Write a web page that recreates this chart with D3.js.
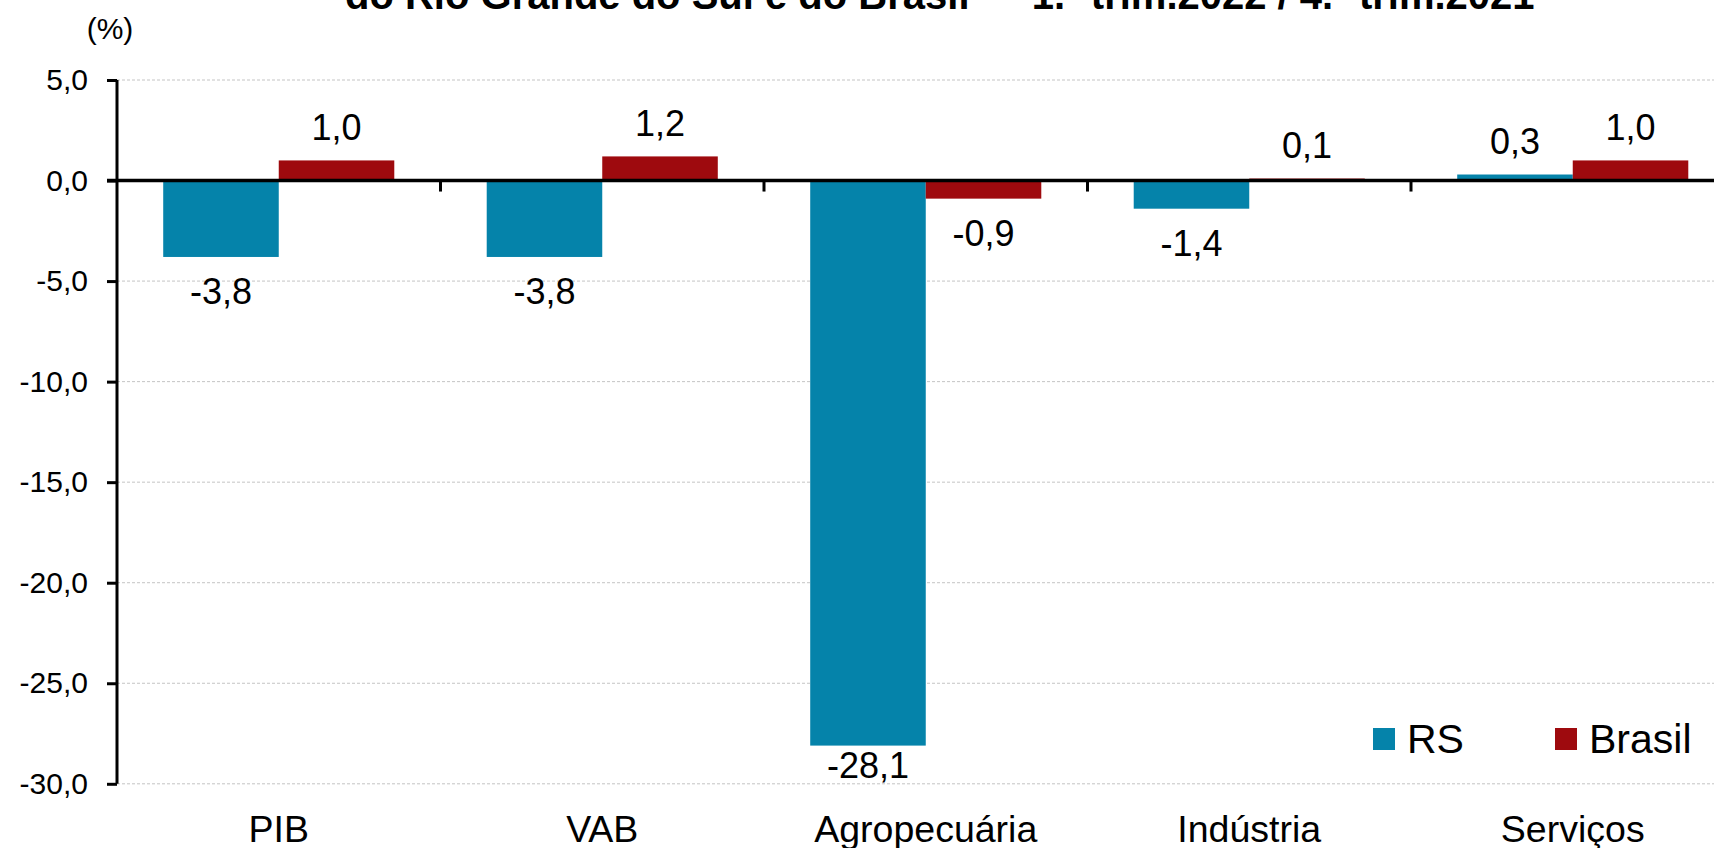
<!DOCTYPE html>
<html>
<head>
<meta charset="utf-8">
<script src="https://cdn.jsdelivr.net/npm/d3@7"></script>
<style>
  body { margin: 0; background: #fff; }
  svg { display: block; font-family: "Liberation Sans", Arial, sans-serif; }
  .grid line { stroke: #c4c4c4; stroke-width: 1; stroke-dasharray: 3 2; }
</style>
</head>
<body>
<div class="chart"></div>
<script>
// Data
var categories = ["PIB", "VAB", "Agropecuária", "Indústria", "Serviços"];
var seriesNames = ["RS", "Brasil"];
var rsValues = [-3.8, -3.8, -28.1, -1.4, 0.3];
var brasilValues = [1.0, 1.2, -0.9, 0.1, 1.0];
var yTickValues = [5, 0, -5, -10, -15, -20, -25, -30];

var titleText = "do Rio Grande do Sul e do Brasil — 1.º trim.2022 / 4.º trim.2021";

var svgWidth = 1714;
var svgHeight = 848;

var margin = { top: 80, left: 117 };
var plotWidth = 1617.5;   // goes past the right edge, as in the reference
var plotBottom = 783.8;

var colors = { RS: "#0583aa", Brasil: "#9e0a0e" };

var svg = d3.select(".chart")
  .append("svg")
  .attr("width", svgWidth)
  .attr("height", svgHeight);

// number format with comma decimal and plain hyphen
var ptBR = d3.formatLocale({ decimal: ",", thousands: ".", grouping: [3], currency: ["R$", ""], minus: "-" });
var fmt = ptBR.format(".1f");

// Scales
var x0 = d3.scaleBand()
  .domain(categories)
  .range([margin.left, margin.left + plotWidth]);

var x1 = d3.scaleBand()
  .domain(seriesNames)
  .range([0, x0.bandwidth()])
  .paddingOuter(0.4);

var y = d3.scaleLinear()
  .domain([-30, 5])
  .range([plotBottom, margin.top]);

var rows = categories.map(function(c, i) {
  return { cat: c, values: [
    { key: "RS", value: rsValues[i] },
    { key: "Brasil", value: brasilValues[i] }
  ] };
});

// Gridlines (dashed)
svg.append("g")
  .attr("class", "grid")
  .selectAll("line")
  .data(yTickValues.filter(function(d) { return d !== 0; }))
  .enter()
  .append("line")
  .attr("x1", margin.left)
  .attr("x2", svgWidth)
  .attr("y1", function(d) { return y(d); })
  .attr("y2", function(d) { return y(d); });

// Bars
var groups = svg.append("g")
  .selectAll("g")
  .data(rows)
  .enter()
  .append("g")
  .attr("transform", function(d) { return "translate(" + x0(d.cat) + ",0)"; });

groups.selectAll("rect")
  .data(function(d) { return d.values; })
  .enter()
  .append("rect")
  .attr("x", function(d) { return x1(d.key); })
  .attr("width", x1.bandwidth())
  .attr("y", function(d) { return y(Math.max(0, d.value)); })
  .attr("height", function(d) { return Math.abs(y(d.value) - y(0)); })
  .attr("fill", function(d) { return colors[d.key]; });

// Data labels (kept inside the plot area, like Excel does)
groups.selectAll("text")
  .data(function(d) { return d.values; })
  .enter()
  .append("text")
  .attr("x", function(d) { return x1(d.key) + x1.bandwidth() / 2; })
  .attr("y", function(d) {
    return d.value >= 0 ? y(d.value) - 20.5 : Math.min(y(d.value) + 47, plotBottom - 6);
  })
  .attr("text-anchor", "middle")
  .style("font-size", "36px")
  .style("fill", "#000")
  .text(function(d) { return fmt(d.value); });

// Y axis
var leftAxis = d3.axisLeft(y)
  .tickValues(yTickValues)
  .tickSize(10)
  .tickPadding(19)
  .tickFormat(fmt);

var yAxisG = svg.append("g")
  .attr("transform", "translate(" + margin.left + ",0)")
  .call(leftAxis);
yAxisG.select(".domain").attr("stroke", "#000").attr("stroke-width", 3)
  .attr("d", "M0," + y(5) + "V" + y(-30));
yAxisG.selectAll(".tick line").attr("stroke", "#000").attr("stroke-width", 3);
yAxisG.selectAll(".tick text")
  .style("font-size", "30px")
  .style("font-family", "'Liberation Sans', Arial, sans-serif")
  .attr("fill", "#000");

// Zero line with category boundary ticks
svg.append("line")
  .attr("x1", margin.left - 10)
  .attr("x2", svgWidth)
  .attr("y1", y(0))
  .attr("y2", y(0))
  .attr("stroke", "#000")
  .attr("stroke-width", 3.5);

svg.append("g")
  .selectAll("line")
  .data(categories.slice(1))
  .enter()
  .append("line")
  .attr("x1", function(d) { return x0(d); })
  .attr("x2", function(d) { return x0(d); })
  .attr("y1", y(0))
  .attr("y2", y(0) + 11)
  .attr("stroke", "#000")
  .attr("stroke-width", 3);

// Category labels at the bottom
var bottomAxis = d3.axisBottom(x0)
  .tickSize(0)
  .tickPadding(32);

var xAxisG = svg.append("g")
  .attr("transform", "translate(0," + plotBottom + ")")
  .call(bottomAxis);
xAxisG.select(".domain").remove();
xAxisG.selectAll(".tick text")
  .style("font-size", "37.5px")
  .style("font-family", "'Liberation Sans', Arial, sans-serif")
  .attr("fill", "#000");

// Unit label
svg.append("text")
  .attr("x", 110)
  .attr("y", 38.5)
  .attr("text-anchor", "middle")
  .style("font-size", "30px")
  .text("(%)");

// Title (first line falls outside the picture)
svg.append("text")
  .attr("x", 345)
  .attr("y", 9)
  .style("font-size", "40px")
  .style("font-weight", "bold")
  .text(titleText);

// Legend
var legend = svg.append("g")
  .selectAll("g")
  .data([{ key: "RS", x: 1373 }, { key: "Brasil", x: 1555 }])
  .enter()
  .append("g")
  .attr("transform", function(d) { return "translate(" + d.x + ",728)"; });

legend.append("rect")
  .attr("width", 22)
  .attr("height", 22)
  .attr("fill", function(d) { return colors[d.key]; });

legend.append("text")
  .attr("x", 34)
  .attr("y", 24.5)
  .style("font-size", "41px")
  .text(function(d) { return d.key; });
</script>
</body>
</html>
